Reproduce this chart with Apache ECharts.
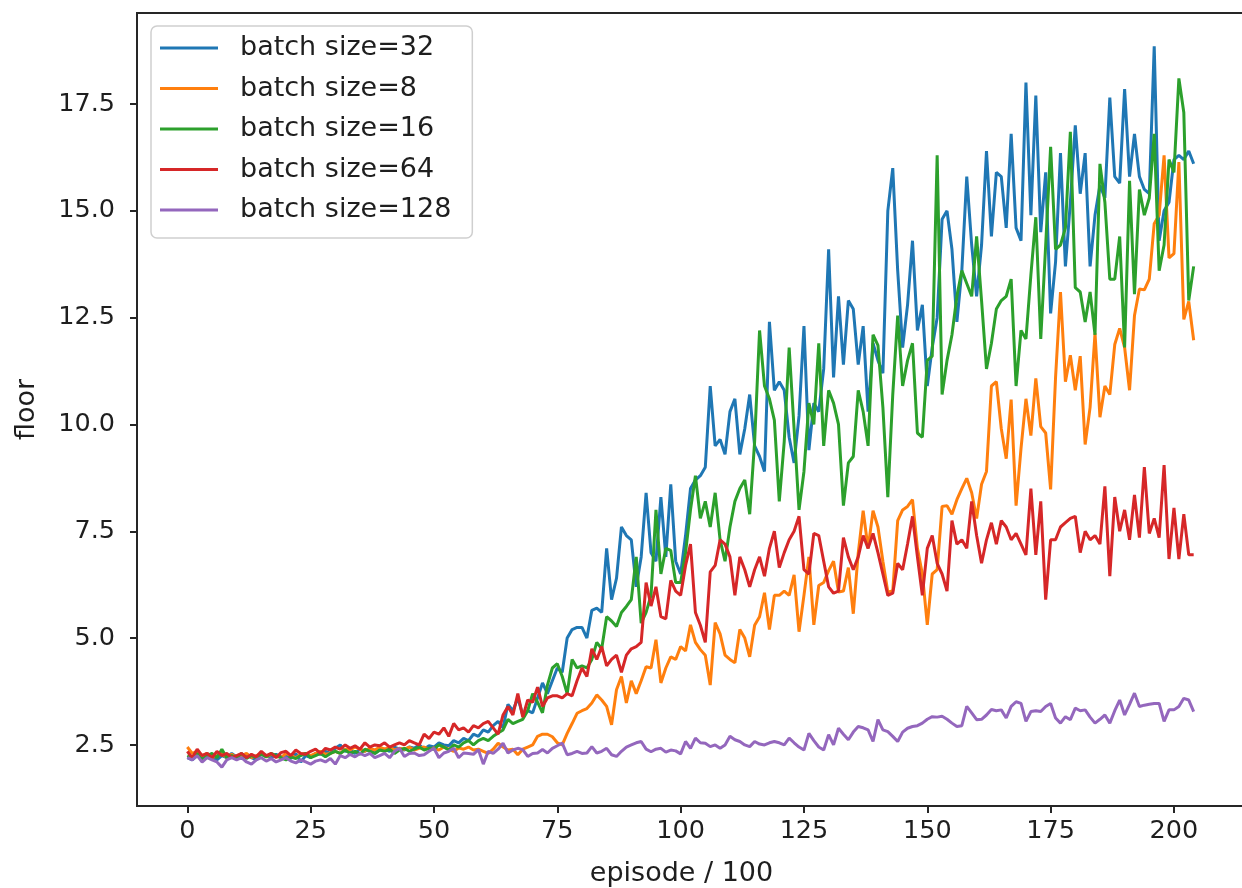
<!DOCTYPE html>
<html>
<head>
<meta charset="utf-8">
<script src="https://cdn.jsdelivr.net/npm/echarts@6/dist/echarts.min.js"></script>
<style>
  html, body { margin: 0; padding: 0; background: #ffffff; }
  #chart { width: 1242px; height: 888px; }
</style>
</head>
<body>
<div id="chart"></div>
<script>
// Mean floor reached per block of 100 episodes, one run per batch size.
const seriesNames = ['batch size=32', 'batch size=8', 'batch size=16', 'batch size=64', 'batch size=128'];
const seriesColors = ['#1f77b4', '#ff7f0e', '#2ca02c', '#d62728', '#9467bd'];

const xTicks = [0, 25, 50, 75, 100, 125, 150, 175, 200];
const yTicks = [2.5, 5.0, 7.5, 10.0, 12.5, 15.0, 17.5];

const batch32 = [
  2.2, 2.15, 2.25, 2.18, 2.3, 2.2, 2.15, 2.25, 2.2, 2.3,
  2.22, 2.18, 2.28, 2.2, 2.15, 2.3, 2.25, 2.2, 2.28, 2.22,
  2.25, 2.18, 2.3, 2.1, 2.25, 2.2, 2.3, 2.28, 2.35, 2.3,
  2.42, 2.5, 2.35, 2.38, 2.3, 2.4, 2.35, 2.42, 2.3, 2.38,
  2.4, 2.35, 2.45, 2.4, 2.38, 2.45, 2.42, 2.5, 2.4, 2.48,
  2.45, 2.55, 2.5, 2.48, 2.6, 2.55, 2.65, 2.6, 2.75, 2.7,
  2.85, 2.8, 2.95, 3.05, 2.9, 3.45, 3.3, 3.6, 3.2, 3.3,
  3.25, 3.6, 3.95, 3.7, 4.0, 4.3, 4.2, 5.0, 5.2, 5.25,
  5.25, 5.0, 5.65, 5.7, 5.6, 7.1, 5.9, 6.4, 7.6, 7.4,
  7.3, 6.2, 6.9, 8.4, 7.0, 6.8, 8.3, 6.9, 8.6, 6.8,
  6.5, 7.4, 8.5, 8.7, 8.8, 9.0, 10.9, 9.5, 9.65, 9.3,
  10.3, 10.6, 9.3, 9.9, 10.7, 9.5, 9.25, 8.9, 12.4, 10.8,
  11.0, 10.8, 9.7, 9.1, 10.2, 12.3, 9.4, 10.5, 10.3, 11.3,
  14.1, 11.1, 13.0, 11.4, 12.9, 12.7, 11.4, 12.3, 10.3, 11.9,
  11.5, 11.2, 15.0, 16.0, 13.6, 11.8, 12.8, 14.3, 12.2, 12.8,
  10.9, 11.8, 12.5, 14.8, 15.0, 14.1, 12.4, 13.6, 15.8, 14.2,
  13.0, 14.2, 16.4, 14.4, 15.9, 15.8, 14.6, 16.8, 14.6, 14.3,
  18.0, 14.9, 17.7, 14.5, 15.9, 12.6, 13.8, 16.35, 13.7, 15.2,
  17.0, 15.4, 16.35, 13.7, 14.9, 15.6, 15.3, 17.65, 15.8, 15.65,
  17.85, 15.8, 16.8, 15.8, 15.5, 15.4, 18.85, 14.3, 15.0, 15.2,
  16.2, 16.3, 16.2, 16.4, 16.1
];

const batch8 = [
  2.45, 2.3, 2.35, 2.25, 2.3, 2.2, 2.25, 2.3, 2.2, 2.28,
  2.2, 2.25, 2.3, 2.2, 2.25, 2.3, 2.22, 2.28, 2.25, 2.2,
  2.3, 2.25, 2.2, 2.28, 2.3, 2.25, 2.3, 2.35, 2.28, 2.3,
  2.35, 2.3, 2.4, 2.38, 2.45, 2.4, 2.35, 2.42, 2.38, 2.45,
  2.4, 2.45, 2.38, 2.42, 2.4, 2.45, 2.38, 2.42, 2.45, 2.4,
  2.43, 2.38, 2.45, 2.4, 2.35, 2.43, 2.4, 2.45, 2.38, 2.4,
  2.35, 2.3, 2.4, 2.54, 2.45, 2.38, 2.4, 2.27, 2.4, 2.45,
  2.5, 2.7, 2.75, 2.75, 2.69, 2.55, 2.5, 2.77, 3.0, 3.24,
  3.3, 3.35, 3.48, 3.67, 3.55, 3.4, 2.97, 3.79, 4.1, 3.48,
  4.0, 3.7, 4.0, 4.33, 4.3, 4.96, 3.95, 4.3, 4.56, 4.5,
  4.8, 4.7, 5.31, 4.9, 4.73, 4.6, 3.9, 5.36, 5.1, 4.6,
  4.5, 4.42, 5.2, 5.0, 4.56, 5.3, 5.5, 6.06, 5.2, 6.0,
  6.0, 6.1, 6.0, 6.48, 5.15, 6.0, 6.9, 5.31, 6.23, 6.3,
  6.58, 6.8, 6.08, 6.1, 6.65, 5.57, 6.99, 7.98, 7.1, 7.98,
  7.6, 6.8, 6.08, 6.1, 7.75, 8.0, 8.08, 8.24, 7.1, 6.5,
  5.31, 6.5, 6.6, 8.08, 8.1, 7.9, 8.24, 8.5, 8.74, 8.4,
  7.8, 8.6, 8.9, 10.9, 11.0, 9.9, 9.2, 10.58, 8.1, 9.44,
  10.6, 9.74, 11.08, 9.95, 9.8, 8.48, 11.1, 13.1, 11.0, 11.62,
  10.8, 11.6, 9.53, 10.4, 12.13, 10.17, 10.9, 10.7, 11.87, 12.25,
  11.8, 10.8, 12.55, 13.17, 13.15, 13.4, 14.7, 14.9, 16.3, 13.9,
  14.0, 16.14, 12.46, 12.88, 11.97
];

const batch16 = [
  2.25, 2.2, 2.3, 2.15, 2.25, 2.3, 2.2, 2.4, 2.2, 2.25,
  2.2, 2.3, 2.18, 2.25, 2.2, 2.28, 2.22, 2.3, 2.25, 2.2,
  2.15, 2.22, 2.18, 2.25, 2.3, 2.2, 2.25, 2.3, 2.22, 2.3,
  2.35, 2.3, 2.38, 2.3, 2.35, 2.28, 2.4, 2.35, 2.3, 2.38,
  2.35, 2.4, 2.3, 2.38, 2.42, 2.35, 2.4, 2.45, 2.38, 2.42,
  2.4, 2.5, 2.45, 2.38, 2.5, 2.45, 2.55, 2.6, 2.5, 2.6,
  2.65, 2.6, 2.7, 2.78, 2.85, 3.1, 3.0, 3.05, 3.1, 3.3,
  3.7, 3.5, 3.25, 3.9, 4.3, 4.4, 4.1, 3.7, 4.5, 4.3,
  4.35, 4.3, 4.5, 4.9, 4.75, 5.5, 5.4, 5.27, 5.6, 5.74,
  5.9, 6.9, 5.35, 5.6, 6.0, 8.0, 6.5, 7.1, 7.05, 6.3,
  6.3, 7.0, 8.0, 8.8, 7.8, 8.2, 7.6, 8.4, 7.3, 6.8,
  7.6, 8.2, 8.5, 8.7, 7.9, 9.6, 12.2, 10.9, 10.6, 10.1,
  8.2, 9.6, 11.8, 9.9, 8.0, 8.9, 10.5, 10.0, 11.9, 9.5,
  10.8, 10.5, 10.0, 8.1, 9.1, 9.25, 10.8, 10.3, 9.5, 12.1,
  11.85, 10.4, 8.3, 10.7, 12.55, 10.9, 11.5, 11.9, 9.8, 9.7,
  11.5, 11.6, 16.3, 10.7, 11.5, 12.1, 13.0, 13.6, 13.3, 13.0,
  14.4, 12.9, 11.3, 11.9, 12.7, 12.9, 13.0, 13.4, 10.9, 12.2,
  12.0, 13.5, 14.85, 12.0, 14.2, 16.5, 14.1, 14.2, 14.6, 16.85,
  13.2, 13.1, 12.4, 13.1, 12.1, 16.1, 15.2, 13.4, 13.4, 14.4,
  11.8, 15.7, 13.05, 15.5, 14.9, 15.3, 16.8, 13.6, 14.2, 16.2,
  15.9, 18.1, 17.3, 12.9, 13.7
];

const batch64 = [
  2.35, 2.2, 2.4, 2.25, 2.3, 2.2, 2.35, 2.25, 2.3, 2.2,
  2.25, 2.3, 2.2, 2.28, 2.22, 2.35, 2.25, 2.3, 2.2, 2.32,
  2.35, 2.25, 2.38, 2.3, 2.28, 2.35, 2.4, 2.3, 2.42, 2.38,
  2.45, 2.4, 2.5, 2.42, 2.48, 2.4, 2.55, 2.45, 2.5, 2.48,
  2.55, 2.45, 2.5, 2.55, 2.5, 2.6, 2.55, 2.5, 2.75, 2.65,
  2.8, 2.75, 2.9, 2.7, 3.0, 2.85, 2.9, 2.8, 2.95, 2.9,
  3.0, 3.05, 2.9, 2.75, 3.2, 3.4, 3.2, 3.7, 3.15, 3.55,
  3.5, 3.85, 3.4, 3.6, 3.65, 3.65, 3.6, 3.7, 3.65, 4.0,
  4.3, 4.1, 4.75, 4.5, 4.8, 4.35, 4.5, 4.6, 4.2, 4.6,
  4.75, 4.8, 4.9, 6.3, 5.75, 6.2, 5.5, 5.45, 6.35, 6.1,
  6.0, 6.7, 7.2, 5.6, 5.3, 4.9, 6.55, 6.7, 7.3, 7.2,
  6.9, 6.0, 6.9, 6.6, 6.2, 6.6, 6.9, 6.45, 7.1, 7.5,
  6.65, 7.0, 7.3, 7.5, 7.85, 6.6, 6.5, 7.45, 7.4, 6.8,
  6.2, 6.05, 6.1, 7.35, 6.9, 6.6, 6.9, 7.4, 7.1, 7.45,
  7.0, 6.5, 6.0, 6.05, 6.75, 6.6, 7.2, 7.85, 6.9, 6.0,
  7.1, 7.4, 6.75, 6.5, 6.1, 7.75, 7.2, 7.3, 7.1, 8.2,
  7.4, 6.75, 7.3, 7.7, 7.2, 7.75, 7.6, 7.3, 7.45, 7.2,
  6.95, 8.5, 6.95, 8.2, 5.9, 7.3, 7.3, 7.6, 7.7, 7.8,
  7.85, 7.0, 7.5, 7.3, 7.4, 7.2, 8.55, 6.45, 8.3, 7.5,
  8.0, 7.3, 8.35, 7.35, 9.0, 7.45, 7.8, 7.35, 9.05, 6.85,
  8.05, 6.85, 7.9, 6.95, 6.95
];

const batch128 = [
  2.2, 2.15, 2.25, 2.1, 2.2, 2.15, 2.1, 1.98, 2.15, 2.2,
  2.15, 2.2, 2.1, 2.05, 2.15, 2.2, 2.12, 2.18, 2.1, 2.15,
  2.2, 2.12, 2.08, 2.15, 2.1, 2.05, 2.12, 2.15, 2.1, 2.18,
  2.05, 2.25, 2.2, 2.28, 2.22, 2.3, 2.25, 2.3, 2.2, 2.25,
  2.3, 2.2, 2.35, 2.42, 2.23, 2.3, 2.31, 2.25, 2.27, 2.35,
  2.42, 2.2, 2.31, 2.35, 2.42, 2.2, 2.31, 2.3, 2.28, 2.39,
  2.05, 2.35, 2.3, 2.4, 2.54, 2.31, 2.38, 2.42, 2.39, 2.23,
  2.3, 2.31, 2.39, 2.31, 2.42, 2.48, 2.54, 2.27, 2.3, 2.35,
  2.3, 2.31, 2.46, 2.31, 2.35, 2.42, 2.27, 2.23, 2.35, 2.45,
  2.5, 2.55, 2.58, 2.4, 2.34, 2.4, 2.42, 2.33, 2.38, 2.36,
  2.29, 2.58, 2.42, 2.66, 2.55, 2.54, 2.46, 2.5, 2.42, 2.5,
  2.7, 2.62, 2.58, 2.5, 2.46, 2.58, 2.52, 2.5, 2.55, 2.58,
  2.55, 2.5, 2.66, 2.55, 2.45, 2.38, 2.77, 2.6, 2.45, 2.38,
  2.74, 2.5, 2.89, 2.75, 2.62, 2.8, 2.93, 2.9, 2.85, 2.58,
  3.09, 2.85, 2.81, 2.7, 2.58, 2.8, 2.89, 2.93, 2.95, 3.01,
  3.1, 3.16, 3.15, 3.17, 3.1, 3.01, 2.93, 2.95, 3.4, 3.25,
  3.09, 3.1, 3.2, 3.33, 3.3, 3.32, 3.13, 3.4, 3.51, 3.47,
  3.05, 3.28, 3.3, 3.28, 3.4, 3.47, 3.13, 3.01, 3.16, 3.09,
  3.36, 3.3, 3.32, 3.15, 3.01, 3.1, 3.2, 3.01, 3.3, 3.55,
  3.2, 3.45, 3.71, 3.4, 3.43, 3.45, 3.47, 3.47, 3.05, 3.32,
  3.32, 3.4, 3.59, 3.55, 3.28
];

const seriesValues = [batch32, batch8, batch16, batch64, batch128];

const FONT = 'DejaVu Sans';
const INK = '#1e1e1e';

const chart = echarts.init(document.getElementById('chart'), null, { renderer: 'canvas' });

chart.setOption({
  animation: false,
  backgroundColor: '#ffffff',
  textStyle: { fontFamily: FONT, color: INK },
  grid: {
    left: 137,
    top: 13,
    width: 1107,
    height: 793,
    containLabel: false,
    outerBoundsMode: 'none',
    show: true,
    borderColor: '#262626',
    borderWidth: 2,
    backgroundColor: 'transparent'
  },
  legend: {
    orient: 'vertical',
    left: 151,
    top: 26,
    padding: [7, 21, 13, 9],
    itemGap: 10.5,
    itemWidth: 58,
    itemHeight: 3,
    icon: 'rect',
    backgroundColor: 'rgba(255,255,255,0.85)',
    borderColor: '#cfcfcf',
    borderWidth: 1.5,
    borderRadius: 6,
    textStyle: {
      fontFamily: FONT,
      fontSize: 27,
      color: INK,
      lineHeight: 30,
      padding: [0, 0, 0, 17]
    },
    data: seriesNames
  },
  xAxis: {
    type: 'value',
    min: -10.2,
    max: 214.2,
    name: 'episode / 100',
    nameLocation: 'middle',
    nameGap: 54,
    nameTextStyle: { fontFamily: FONT, fontSize: 27, color: INK, padding: [0, 18, 0, 0] },
    axisLine: { show: false, onZero: false },
    axisTick: {
      show: true,
      inside: false,
      length: 7,
      lineStyle: { color: '#262626', width: 2 },
      customValues: xTicks
    },
    axisLabel: {
      fontFamily: FONT,
      fontSize: 25.5,
      color: INK,
      margin: 12,
      customValues: xTicks,
      formatter: v => String(v)
    },
    splitLine: { show: false }
  },
  yAxis: {
    type: 'value',
    min: 1.07,
    max: 19.63,
    name: 'floor',
    nameLocation: 'middle',
    nameGap: 97,
    nameRotate: 90,
    nameTextStyle: { fontFamily: FONT, fontSize: 27, color: INK },
    axisLine: { show: false, onZero: false },
    axisTick: {
      show: true,
      inside: false,
      length: 7,
      lineStyle: { color: '#262626', width: 2 },
      customValues: yTicks
    },
    axisLabel: {
      fontFamily: FONT,
      fontSize: 25.5,
      color: INK,
      margin: 22,
      customValues: yTicks,
      formatter: v => Number(v).toFixed(1)
    },
    splitLine: { show: false }
  },
  series: seriesNames.map((name, k) => ({
    name: name,
    type: 'line',
    showSymbol: false,
    symbol: 'none',
    clip: true,
    color: seriesColors[k],
    lineStyle: { width: 3, color: seriesColors[k] },
    data: seriesValues[k].map((v, i) => [i, v])
  }))
});
</script>
</body>
</html>
